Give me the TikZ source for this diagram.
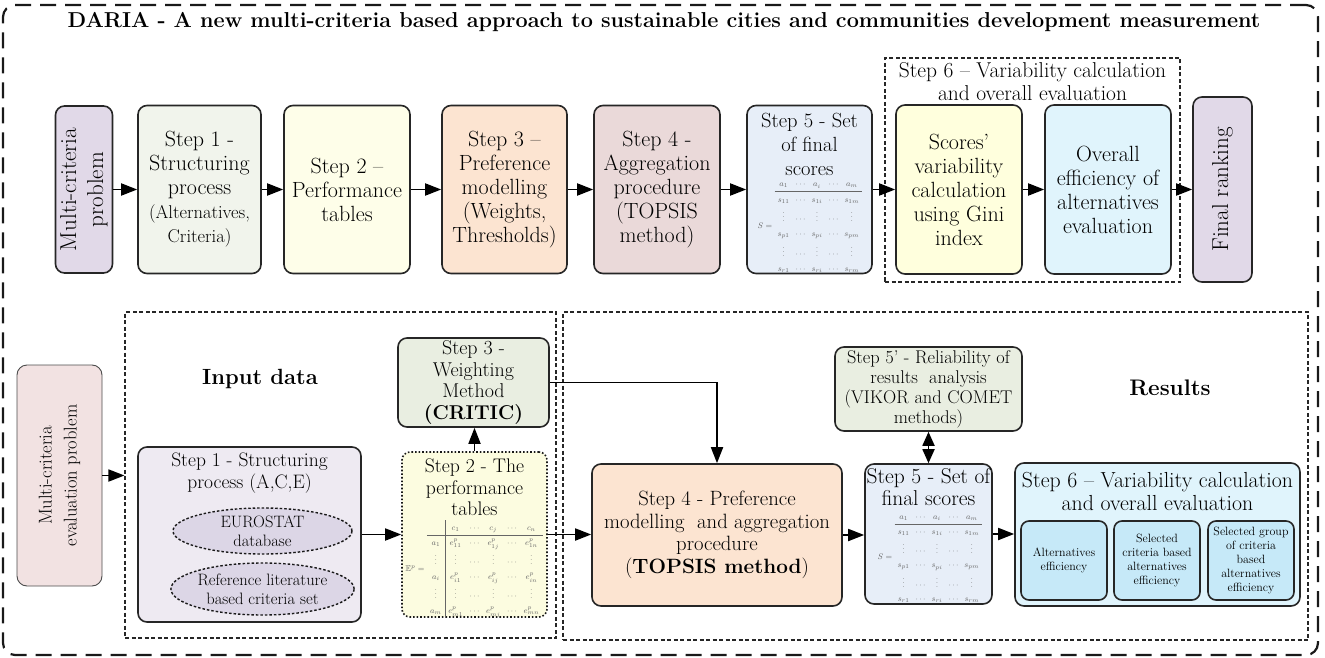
\documentclass[tikz,border=0pt]{standalone}
\usepackage{amssymb}
\usetikzlibrary{arrows.meta,shapes.geometric}
\newcommand{\setfs}[2]{\fontsize{#1}{#2}\selectfont}
\definecolor{cLav}{HTML}{E1D9E8}
\definecolor{cS1}{HTML}{F1F4EC}
\definecolor{cS2}{HTML}{FEFEE9}
\definecolor{cPeach}{HTML}{FCE4D1}
\definecolor{cS4}{HTML}{EAD9D9}
\definecolor{cBlue}{HTML}{E7EEF8}
\definecolor{cYel}{HTML}{FFFFDD}
\definecolor{cCyan}{HTML}{E0F4FC}
\definecolor{cPink}{HTML}{F2E2E2}
\definecolor{cLav2}{HTML}{EEEAF2}
\definecolor{cEll}{HTML}{DCD6E6}
\definecolor{cGreen}{HTML}{E9EEE1}
\definecolor{cYel2}{HTML}{FCFCE0}
\definecolor{cSub}{HTML}{C6E9F8}
\newcommand{\myS}{$S=\begin{array}{ccccc} a_1&\cdots&a_i&\cdots&a_m\\\hline s_{11}&\cdots&s_{1i}&\cdots&s_{1m}\\ \vdots&\cdots&\vdots&\cdots&\vdots\\ s_{p1}&\cdots&s_{pi}&\cdots&s_{pm}\\ \vdots&\cdots&\vdots&\cdots&\vdots\\ s_{r1}&\cdots&s_{ri}&\cdots&s_{rm}\end{array}$}
\newcommand{\myE}{$\mathbb{E}^p=\begin{array}{c|ccccc} & c_1&\cdots&c_j&\cdots&c_n\\\hline a_1&e^p_{11}&\cdots&e^p_{1j}&\cdots&e^p_{1n}\\ \vdots&\vdots&\cdots&\vdots&\cdots&\vdots\\ a_i&e^p_{i1}&\cdots&e^p_{ij}&\cdots&e^p_{in}\\ \vdots&\vdots&\cdots&\vdots&\cdots&\vdots\\ a_m&e^p_{m1}&\cdots&e^p_{mj}&\cdots&e^p_{mn}\end{array}$}
\tikzset{
  box/.style={draw=black!85, line width=1.6pt, rounded corners=9pt, align=center, inner sep=0pt, font=\setfs{22}{24}},
  txt/.style={align=center, inner sep=0pt},
  arr/.style={line width=1.8pt, -{Triangle[length=16pt,width=12pt]}},
  darr/.style={line width=1.8pt, {Triangle[length=14pt,width=12pt]}-{Triangle[length=14pt,width=12pt]}},
  idash/.style={draw=black!85, line width=1.1pt, dash pattern=on 4pt off 2.5pt, inner sep=0pt},
  ell/.style={ellipse, draw=black!90, fill=cEll, line width=1.4pt, dash pattern=on 2.5pt off 2pt, inner sep=0pt, align=center, font=\setfs{16.5}{19}},
  mat/.style={inner sep=0pt, text=black!60},
  subbox/.style={draw=black!85, line width=1.6pt, rounded corners=8pt, fill=cSub, align=center, inner sep=0pt, minimum width=86pt, minimum height=79pt, font=\setfs{12}{14}},
}
\begin{document}
\begin{tikzpicture}[x=1pt,y=-1pt]
\useasboundingbox (0,0) rectangle (1325,658);
% outer frame
\node[draw=black!90, line width=2.2pt, dash pattern=on 16pt off 9pt, rounded corners=12pt, minimum width=1315pt, minimum height=650pt, inner sep=0pt] (outer) at (660.5,330) {};
\node[txt, font=\bfseries\setfs{21.6}{24}] (title) at (664,22) {DARIA - A new multi-criteria based approach to sustainable cities and communities development measurement};

% ---------- top row ----------
\node[idash, minimum width=295pt, minimum height=224pt] (s6box) at (1032.5,170) {};
\node[txt, font=\setfs{21.5}{23}] (s6t) at (1032.5,81.5) {Step 6 -- Variability calculation\\and overall evaluation};

\node[box, fill=cLav, rotate=90, minimum width=167pt, minimum height=57pt, font=\setfs{23}{27}] (mcp) at (84,189.5) {Multi-criteria\\problem};
\node[box, fill=cS1, minimum width=123pt, minimum height=168pt] (s1) at (199.5,189.5) {Step 1 -\\Structuring\\process\\{\setfs{18.5}{22}(Alternatives,}\\{\setfs{18.5}{22}Criteria)}};
\node[box, fill=cS2, minimum width=126pt, minimum height=168pt] (s2) at (347,189.5) {Step 2 --\\Performance\\tables};
\node[box, fill=cPeach, minimum width=125pt, minimum height=168pt] (s3) at (504.5,189.5) {Step 3 --\\Preference\\modelling\\(Weights,\\Thresholds)};
\node[box, fill=cS4, minimum width=126pt, minimum height=168pt] (s4) at (657,189.5) {Step 4 -\\Aggregation\\procedure\\(TOPSIS\\method)};
\node[box, fill=cBlue, minimum width=125pt, minimum height=168pt] (s5) at (809.5,189.5) {};
\node[txt, font=\setfs{20.5}{24}] (s5t) at (809.5,144) {Step 5 - Set\\of final\\scores};
\node[mat, font=\setfs{8.5}{10}] (s5m) at (810,226) {\renewcommand{\arraystretch}{1.5}\setlength{\arraycolsep}{3pt}\myS};
\node[box, fill=cYel, minimum width=126pt, minimum height=169pt] (sc) at (959,189.5) {Scores'\\variability\\calculation\\using Gini\\index};
\node[box, fill=cCyan, minimum width=126pt, minimum height=169pt] (ov) at (1108,189.5) {Overall\\efficiency of\\alternatives\\evaluation};
\node[box, fill=cLav, rotate=90, minimum width=185pt, minimum height=59pt, font=\setfs{23}{27}] (fr) at (1222.5,189.5) {Final ranking};

\draw[arr] (mcp) -- (s1);
\draw[arr] (s1) -- (s2);
\draw[arr] (s2) -- (s3);
\draw[arr] (s3) -- (s4);
\draw[arr] (s4) -- (s5);
\draw[arr] (s5) -- (sc);
\draw[arr] (sc) -- (ov);
\draw[arr] (ov) -- (fr);

% ---------- bottom ----------
\node[idash, minimum width=431pt, minimum height=326pt] (inbox) at (340.5,475) {};
\node[idash, minimum width=745pt, minimum height=328pt] (resbox) at (935.5,476) {};
\node[txt, font=\bfseries\setfs{22}{26}] (intext) at (260,379) {Input data};
\node[txt, font=\bfseries\setfs{22.5}{26}] (restext) at (1170,388) {Results};

\node[draw=black!70, line width=0.9pt, rounded corners=10pt, fill=cPink, rotate=90, minimum width=221pt, minimum height=85pt, align=center, inner sep=0pt, font=\setfs{18.5}{25}] (mce) at (59.5,475.5) {Multi-criteria\\evaluation problem};

\node[box, fill=cLav2, minimum width=223pt, minimum height=175pt] (s1b) at (249.5,534.5) {};
\node[txt, font=\setfs{19.5}{22}] (s1bt) at (249.5,473.5) {Step 1 - Structuring\\process (A,C,E)};
\node[ell, minimum width=179pt, minimum height=46pt] (e1) at (262.5,531) {EUROSTAT\\database};
\node[ell, minimum width=179pt, minimum height=52pt] (e2) at (262.5,589) {Reference literature\\based criteria set};

\node[box, fill=cGreen, minimum width=151pt, minimum height=89pt, font=\setfs{20}{21.5}] (st3b) at (473.5,382.5) {Step 3 -\\Weighting\\Method\\\textbf{(CRITIC)}};
\node[draw=black!90, fill=cYel2, line width=1.6pt, dotted, rounded corners=8pt, minimum width=145pt, minimum height=165pt, inner sep=0pt] (st2b) at (474.5,534.5) {};
\node[txt, font=\setfs{19.7}{21.5}] (st2bt) at (474.5,487.5) {Step 2 - The\\performance\\tables};
\node[mat, font=\setfs{8.5}{10}] (st2bm) at (474,569) {\renewcommand{\arraystretch}{1.48}\setlength{\arraycolsep}{3.3pt}\myE};

\node[box, fill=cPeach, minimum width=250pt, minimum height=142pt, font=\setfs{20.7}{22.5}] (st4b) at (717,535) {Step 4 - Preference\\modelling \ and aggregation\\procedure\\(\textbf{TOPSIS method})};

\node[box, fill=cGreen, minimum width=187pt, minimum height=84pt, font=\setfs{18.4}{20}] (st5p) at (928.5,389) {Step 5' - Reliability of\\results \ analysis\\(VIKOR and COMET\\methods)};
\node[box, fill=cBlue, minimum width=127pt, minimum height=140pt] (st5b) at (928.5,534) {};
\node[txt, font=\setfs{21.5}{22}] (st5bt) at (928.5,487) {Step 5 - Set of\\final scores};
\node[mat, font=\setfs{8.5}{10}] (st5bm) at (930,557.5) {\renewcommand{\arraystretch}{1.45}\setlength{\arraycolsep}{3pt}\myS};

\node[box, fill=cCyan, minimum width=285pt, minimum height=143pt] (st6b) at (1157.5,534.5) {};
\node[txt, font=\setfs{21.8}{23}] (st6bt) at (1157.5,491.5) {Step 6 -- Variability calculation\\and overall evaluation};
\node[subbox] (sub1) at (1064,560.5) {Alternatives\\efficiency};
\node[subbox] (sub2) at (1157,560.5) {Selected\\criteria based\\alternatives\\efficiency};
\node[subbox] (sub3) at (1251,560.5) {Selected group\\of criteria\\based\\alternatives\\efficiency};

\draw[arr] (mce.south) -- (mce.south -| inbox.west);
\draw[arr] (s1b.east) -- (s1b.east -| st2b.west);
\draw[arr] (st2b.north) -- (st2b.north |- st3b.south);
\draw[arr] (st3b.east) -| (st4b.north);
\draw[arr] (st2b.east) -- (st2b.east -| st4b.west);
\draw[arr] (st4b.east) -- (st4b.east -| st5b.west);
\draw[arr] (st5b.east) -- (st5b.east -| st6b.west);
\draw[darr] (st5p.south) -- (st5b.north);
\end{tikzpicture}
\end{document}
